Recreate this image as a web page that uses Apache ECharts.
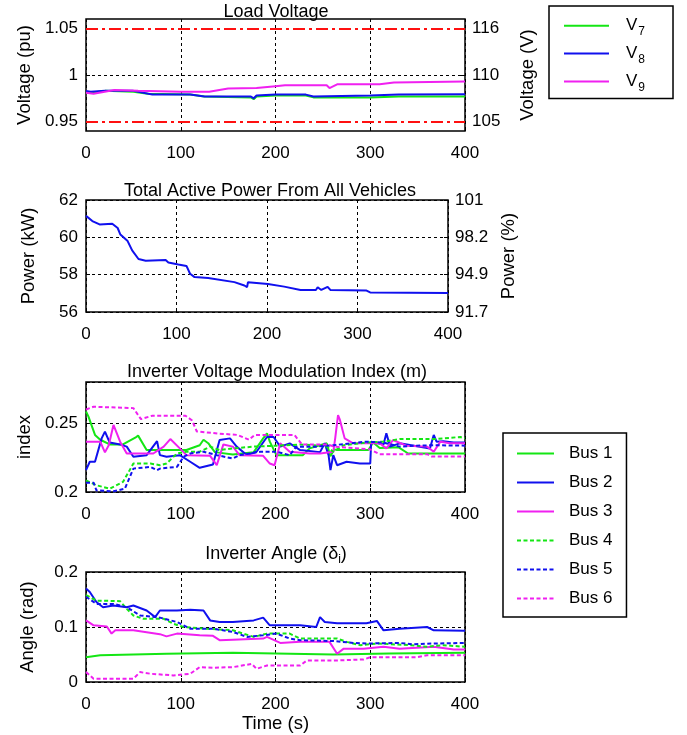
<!DOCTYPE html>
<html><head><meta charset="utf-8">
<script src="https://cdn.jsdelivr.net/npm/echarts@6/dist/echarts.min.js"></script>
<style>html,body{margin:0;padding:0;background:#fff}#c{width:687px;height:735px}</style>
</head><body><div id="c"></div>
<script>
// ---------- data (time in s, value) ----------
const timeTicks = [0, 100, 200, 300, 400];

const v7 = [[0,0.981],[5,0.981],[20,0.983],[50,0.982],[65,0.980],[110,0.979],[125,0.977],[174,0.976],[177,0.974],[180,0.977],[200,0.978],[232,0.978],[240,0.976],[300,0.976],[330,0.977],[400,0.977]];
const v8 = [[0,0.983],[5,0.982],[20,0.983],[50,0.983],[70,0.979],[110,0.979],[125,0.977],[174,0.977],[177,0.975],[180,0.978],[200,0.979],[232,0.979],[240,0.977],[300,0.978],[330,0.979],[400,0.9795]];
const v9 = [[0,0.981],[8,0.980],[30,0.984],[55,0.983],[100,0.982],[130,0.982],[150,0.9855],[180,0.986],[200,0.988],[210,0.989],[254,0.989],[257,0.986],[265,0.990],[310,0.990],[325,0.992],[400,0.993]];
const voltLeftTicks = [0.95, 1, 1.05];
const voltRightLabels = ['105', '110', '116'];
const voltLimits = [0.95, 1.05];

const power = [[0,61.15],[7,60.87],[15,60.69],[29,60.73],[35,60.5],[38,60.15],[46,59.8],[51,59.3],[58,58.84],[66,58.75],[88,58.78],[91,58.65],[102,58.55],[111,58.47],[115,58.05],[120,57.87],[135,57.82],[164,57.6],[175,57.42],[178,57.33],[179,57.6],[201,57.5],[219,57.36],[237,57.18],[254,57.18],[256,57.33],[260,57.18],[267,57.35],[270,57.18],[310,57.15],[314,57.05],[400,57.02]];
const powerTicks = [56, 58, 60, 62];
const powerPctLabels = ['91.7', '94.9', '98.2', '101'];

const busNames = ['Bus 1', 'Bus 2', 'Bus 3', 'Bus 4', 'Bus 5', 'Bus 6'];
const mBus1 = [[0,0.2585],[2.5,0.255],[9.5,0.2415],[15,0.238],[25,0.2346],[39,0.2346],[52,0.2395],[55,0.241],[64,0.2305],[106,0.2305],[120,0.234],[124,0.238],[129,0.2355],[136,0.229],[155,0.2273],[177,0.229],[187,0.239],[191,0.2427],[194,0.2366],[201,0.2268],[229,0.2268],[236,0.2317],[254,0.2354],[258,0.226],[262,0.231],[265,0.2305],[298,0.2305],[303,0.236],[310,0.232],[330,0.2325],[340,0.228],[400,0.228]];
const mBus2 = [[0,0.2159],[4,0.222],[9.5,0.222],[16.5,0.239],[20,0.2439],[25,0.236],[36,0.2346],[43,0.233],[50,0.2256],[64,0.2268],[75,0.237],[77,0.2378],[78,0.2268],[85,0.2256],[99,0.2268],[110,0.222],[120,0.2176],[134,0.22],[141,0.2378],[152,0.239],[159,0.233],[170,0.2268],[180,0.2293],[191,0.24],[198,0.24],[205,0.233],[215,0.2354],[226,0.2305],[247,0.229],[252,0.2354],[256,0.2268],[258,0.2159],[261,0.2268],[265,0.2195],[275,0.222],[289,0.2207],[300,0.2207],[301,0.2366],[314,0.2346],[317,0.2427],[321,0.233],[331,0.2354],[363,0.2317],[367,0.2415],[370,0.2366],[377,0.237],[388,0.236],[400,0.236]];
const mBus3 = [[0,0.2366],[15,0.2366],[20,0.2288],[24,0.234],[29,0.2488],[36,0.2366],[43,0.228],[71,0.228],[82,0.233],[89,0.2385],[99,0.2317],[106,0.2268],[131,0.2263],[138,0.2195],[145,0.2346],[155,0.233],[162,0.2268],[187,0.2263],[194,0.2207],[199,0.2195],[205,0.2354],[215,0.2293],[236,0.228],[247,0.228],[261,0.2293],[263,0.239],[266,0.256],[268,0.2524],[273,0.239],[282,0.2354],[310,0.2354],[317,0.2317],[324,0.2378],[338,0.2337],[360,0.233],[367,0.2293],[374,0.2366],[384,0.2354],[400,0.2354]];
const mBus4 = [[0,0.2085],[11,0.2049],[25,0.2024],[39,0.2073],[50,0.2207],[68,0.2207],[78,0.2195],[85,0.2207],[96,0.228],[106,0.2293],[120,0.2293],[131,0.233],[141,0.2305],[155,0.2317],[177,0.233],[201,0.2337],[226,0.2345],[240,0.234],[254,0.233],[261,0.2293],[272,0.234],[296,0.236],[314,0.2366],[331,0.2385],[367,0.2385],[395,0.24],[400,0.239]];
const mBus5 = [[0,0.2068],[8,0.2068],[11,0.2012],[29,0.2005],[41,0.2024],[50,0.217],[68,0.2183],[75,0.2159],[78,0.217],[96,0.2183],[103,0.2256],[110,0.228],[124,0.2293],[138,0.2268],[155,0.2244],[162,0.2268],[184,0.2293],[201,0.2293],[215,0.2268],[222,0.233],[243,0.233],[261,0.234],[279,0.2354],[296,0.2366],[314,0.236],[331,0.233],[349,0.2337],[367,0.234],[400,0.2337]];
const mBus6 = [[0,0.26],[8,0.262],[50,0.261],[58,0.253],[70,0.2555],[105,0.2555],[112,0.252],[117,0.244],[140,0.2425],[160,0.2415],[172,0.238],[178,0.2415],[220,0.2415],[228,0.2345],[255,0.2345],[262,0.233],[300,0.231],[310,0.2275],[360,0.2275],[365,0.2258],[400,0.2258]];

const aBus1 = [[0,0.045],[15,0.0485],[85,0.0515],[155,0.053],[261,0.050],[320,0.052],[400,0.053]];
const aBus2 = [[0,0.17],[4,0.1636],[11,0.1454],[18,0.136],[29,0.139],[43,0.136],[50,0.139],[64,0.13],[73,0.118],[78,0.13],[96,0.13],[110,0.1315],[124,0.13],[131,0.112],[141,0.109],[155,0.109],[177,0.112],[187,0.117],[194,0.103],[226,0.103],[243,0.1],[247,0.118],[252,0.109],[265,0.107],[296,0.107],[307,0.111],[314,0.094],[331,0.097],[360,0.1],[367,0.094],[400,0.093]];
const aBus3 = [[0,0.112],[8,0.103],[22,0.101],[27,0.088],[31,0.094],[50,0.094],[78,0.087],[85,0.083],[96,0.088],[120,0.085],[134,0.084],[141,0.076],[155,0.077],[187,0.079],[191,0.082],[205,0.071],[226,0.073],[257,0.073],[265,0.0515],[272,0.0606],[293,0.0606],[314,0.064],[331,0.0606],[367,0.064],[388,0.059],[400,0.059]];
const aBus4 = [[0,0.158],[11,0.148],[36,0.147],[43,0.133],[50,0.121],[60,0.115],[82,0.115],[92,0.106],[103,0.1],[127,0.097],[155,0.094],[177,0.082],[191,0.088],[215,0.088],[226,0.079],[265,0.079],[275,0.073],[289,0.067],[307,0.07],[342,0.067],[360,0.064],[377,0.067],[400,0.064]];
const aBus5 = [[0,0.155],[11,0.142],[29,0.142],[43,0.136],[57,0.121],[78,0.117],[96,0.109],[110,0.097],[134,0.097],[155,0.091],[170,0.082],[187,0.085],[201,0.088],[215,0.079],[226,0.076],[261,0.0745],[282,0.071],[296,0.07],[331,0.071],[345,0.0685],[367,0.07],[400,0.071]];
const aBus6 = [[0,0.018],[8,0.006],[50,0.006],[57,0.018],[68,0.015],[92,0.012],[110,0.015],[120,0.027],[134,0.026],[155,0.027],[175,0.033],[180,0.024],[191,0.03],[226,0.03],[233,0.039],[261,0.039],[293,0.041],[300,0.045],[349,0.045],[360,0.0485],[400,0.0485]];

// ---------- styles ----------
const GREEN = '#14e614', BLUE = '#1010ee', MAG = '#f020f0';
const FONT = 'Liberation Sans, Arial, sans-serif';
const busColors = [GREEN, BLUE, MAG, GREEN, BLUE, MAG];
const busDash = ['solid', 'solid', 'solid', [4, 2.5], [4, 2.5], [4, 2.5]];
const dotted = { color: '#000', type: [3, 3], width: 1 };

const grids = [
  { left: 86, top: 19, width: 379, height: 112 },
  { left: 86, top: 200, width: 362, height: 112 },
  { left: 86, top: 382, width: 379, height: 110 },
  { left: 86, top: 572, width: 379, height: 110 }
].map(g => Object.assign({ show: true, borderColor: '#000', borderWidth: 1.5, backgroundColor: '#fff', z: 0 }, g));

const lab = { color: '#000', fontSize: 17, fontFamily: FONT };
const nameStyle = { color: '#000', fontSize: 18.5, fontFamily: FONT };
function xAx(i, name) {
  return {
    type: 'value', gridIndex: i, min: 0, max: 400, interval: 100,
    axisLine: { show: false }, axisTick: { show: true, inside: true, length: 4, lineStyle: { color: '#000' } },
    axisLabel: Object.assign({ margin: 14 }, lab),
    splitLine: { show: true, lineStyle: dotted },
    name: name || '', nameLocation: 'middle', nameGap: 32,
    nameTextStyle: nameStyle
  };
}
function yAx(i, o) {
  return Object.assign({
    type: 'value', gridIndex: i,
    axisLine: { show: false }, axisTick: { show: true, inside: true, length: 4, lineStyle: { color: '#000' } },
    axisLabel: Object.assign({ margin: 8 }, lab),
    splitLine: { show: true, lineStyle: dotted },
    nameLocation: 'middle', nameGap: 49, nameTextStyle: nameStyle
  }, o);
}

const xAxes = [xAx(0), xAx(1), xAx(2), xAx(3, 'Time (s)')];
const yAxes = [
  yAx(0, { min: 0.94, max: 1.06, name: 'Voltage (pu)', splitLine: { show: false },
    axisLabel: Object.assign({ margin: 8, customValues: voltLeftTicks, formatter: v => String(+v.toFixed(2)) }, lab),
    axisTick: { show: true, inside: true, length: 4, customValues: voltLeftTicks, lineStyle: { color: '#000' } } }),
  yAx(0, { min: 0.94, max: 1.06, position: 'right', name: 'Voltage (V)', nameGap: 53, splitLine: { show: false },
    axisLabel: Object.assign({ margin: 7, customValues: voltLeftTicks,
      formatter: v => voltRightLabels[voltLeftTicks.findIndex(t => Math.abs(t - v) < 1e-6)] || '' }, lab),
    axisTick: { show: true, inside: true, length: 4, customValues: voltLeftTicks, lineStyle: { color: '#000' } } }),
  yAx(1, { min: 56, max: 62, interval: 2, name: 'Power (kW)', nameGap: 48 }),
  yAx(1, { min: 56, max: 62, interval: 2, position: 'right', name: 'Power (%)', nameGap: 50, splitLine: { show: false },
    axisLabel: Object.assign({ margin: 7,
      formatter: v => powerPctLabels[powerTicks.findIndex(t => Math.abs(t - v) < 1e-6)] || '' }, lab) }),
  yAx(2, { min: 0.2, max: 0.28, interval: 0.05, name: 'index',
    axisLabel: Object.assign({ margin: 8, customValues: [0.2, 0.25] }, lab) }),
  yAx(3, { min: 0, max: 0.2, interval: 0.1, name: 'Angle (rad)' })
];

function line(name, data, xi, yi, color, dash) {
  return { type: 'line', name, data, xAxisIndex: xi, yAxisIndex: yi, symbol: 'none', silent: true,
    animation: false, z: 3, lineStyle: { color, width: 2, type: dash || 'solid' }, itemStyle: { color } };
}
const series = [
  line('V7', v7, 0, 0, GREEN),
  line('V8', v8, 0, 0, BLUE),
  line('V9', v9, 0, 0, MAG),
  line('Power', power, 1, 2, BLUE)
];
series[0].markLine = {
  silent: true, symbol: 'none', animation: false, label: { show: false },
  data: [
    { yAxis: 1, lineStyle: dotted },
    { yAxis: voltLimits[0], lineStyle: { color: '#ff1010', width: 2, type: [12, 4, 3, 4] } },
    { yAxis: voltLimits[1], lineStyle: { color: '#ff1010', width: 2, type: [12, 4, 3, 4] } }
  ]
};
[mBus1, mBus2, mBus3, mBus4, mBus5, mBus6].forEach((d, k) => series.push(line(busNames[k], d, 2, 4, busColors[k], busDash[k])));
[aBus1, aBus2, aBus3, aBus4, aBus5, aBus6].forEach((d, k) => series.push(line(busNames[k], d, 3, 5, busColors[k], busDash[k])));

const titleStyle = { color: '#000', fontSize: 18, fontWeight: 'normal', fontFamily: FONT,
  rich: { sub: { fontSize: 12, fontFamily: FONT, color: '#000', padding: [12, 0, 0, 0] } } };
const titles = [
  { text: 'Load Voltage', left: 276, top: 3 },
  { text: 'Total Active Power From All Vehicles', left: 270, top: 182 },
  { text: 'Inverter Voltage Modulation Index (m)', left: 277, top: 363 },
  { text: 'Inverter Angle (δ{sub|i})', left: 276, top: 542 }
].map(t => Object.assign({ textAlign: 'center', padding: 0, textStyle: titleStyle }, t));

const hiddenSymbol = { color: 'rgba(0,0,0,0)', borderColor: 'rgba(0,0,0,0)', borderWidth: 0, opacity: 0 };
const option = {
  animation: false,
  backgroundColor: '#fff',
  title: titles,
  grid: grids,
  xAxis: xAxes,
  yAxis: yAxes,
  legend: [
    { data: ['V7', 'V8', 'V9'], orient: 'vertical', left: 549, top: 6, itemWidth: 45, itemHeight: 22, itemGap: 7,
      padding: [11, 28, 5, 14], borderColor: '#000', borderWidth: 1.5, backgroundColor: '#fff', selectedMode: false,
      itemStyle: hiddenSymbol,
      formatter: n => '{v|V}{sub|' + n.slice(1) + '}',
      textStyle: { color: '#000', fontSize: 17, fontFamily: FONT,
        rich: { v: { fontSize: 17, fontFamily: FONT, color: '#000', padding: [0, 0, 0, 12] },
                sub: { fontSize: 12, fontFamily: FONT, color: '#000', padding: [12, 0, 0, 1] } } } },
    { data: busNames, orient: 'vertical', left: 503, top: 433, itemWidth: 37, itemHeight: 20, itemGap: 12,
      padding: [12, 14, 10, 13], borderColor: '#000', borderWidth: 1.5, backgroundColor: '#fff', selectedMode: false,
      itemStyle: hiddenSymbol,
      formatter: n => '{t|' + n + '}',
      textStyle: { color: '#000', fontSize: 17, fontFamily: FONT,
        rich: { t: { fontSize: 17, fontFamily: FONT, color: '#000', padding: [0, 0, 0, 10] } } } }
  ],
  series
};
const chart = echarts.init(document.getElementById('c'), null, { renderer: 'canvas' });
chart.setOption(option);
</script>
</body></html>
